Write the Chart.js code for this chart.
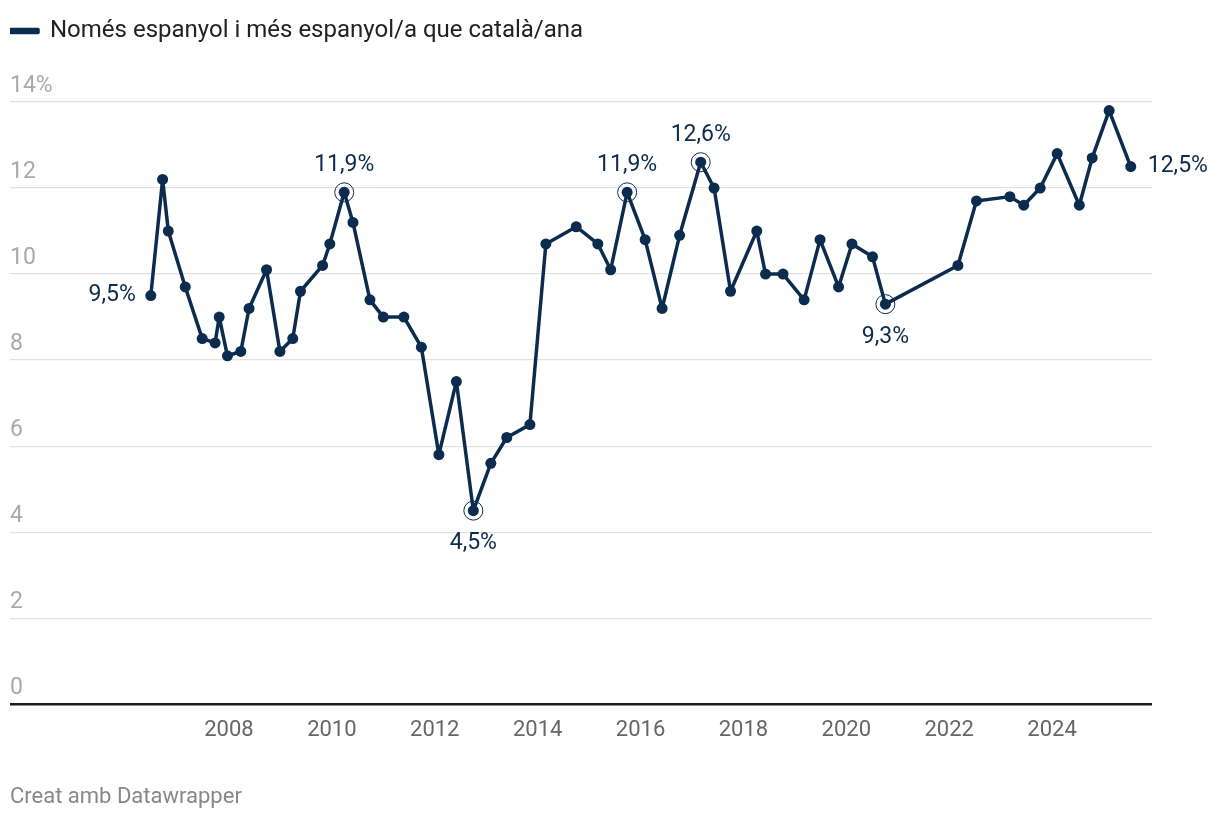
<!DOCTYPE html>
<html>
<head>
<meta charset="utf-8">
<script src="https://cdn.jsdelivr.net/npm/chart.js@4"></script>
<style>
  html, body { margin: 0; padding: 0; background: #fff; }
  #wrap { width: 1220px; height: 818px; }
</style>
</head>
<body>
<div id="wrap"><canvas id="chart"></canvas></div>
<script>
// dates (decimal years) and values
const waveDates = [
  2006.48, 2006.71, 2006.82, 2007.15, 2007.48, 2007.73, 2007.81, 2007.97,
  2008.23, 2008.39, 2008.73, 2008.99, 2009.24, 2009.39, 2009.82, 2009.96,
  2010.24, 2010.41, 2010.74, 2011.00, 2011.40, 2011.74, 2012.08, 2012.42,
  2012.75, 2013.09, 2013.40, 2013.85, 2014.16, 2014.75, 2015.17, 2015.42,
  2015.74, 2016.09, 2016.42, 2016.76, 2017.17, 2017.43, 2017.75, 2018.26,
  2018.43, 2018.77, 2019.18, 2019.49, 2019.85, 2020.11, 2020.51, 2020.76,
  2022.17, 2022.53, 2023.18, 2023.45, 2023.77, 2024.10, 2024.53, 2024.78,
  2025.11, 2025.53
];
const spanishValues = [
  9.5, 12.2, 11.0, 9.7, 8.5, 8.4, 9.0, 8.1,
  8.2, 9.2, 10.1, 8.2, 8.5, 9.6, 10.2, 10.7,
  11.9, 11.2, 9.4, 9.0, 9.0, 8.3, 5.8, 7.5,
  4.5, 5.6, 6.2, 6.5, 10.7, 11.1, 10.7, 10.1,
  11.9, 10.8, 9.2, 10.9, 12.6, 12.0, 9.6, 11.0,
  10.0, 10.0, 9.4, 10.8, 9.7, 10.7, 10.4, 9.3,
  10.2, 11.7, 11.8, 11.6, 12.0, 12.8, 11.6, 12.7,
  13.8, 12.5
];
const seriesLabel = 'Només espanyol i més espanyol/a que català/ana';
const yearTicks = [2008, 2010, 2012, 2014, 2016, 2018, 2020, 2022, 2024];
const valueTicks = [0, 2, 4, 6, 8, 10, 12, 14];

// highlighted points: index into the series, where the label goes, ring or not
const callouts = [
  { i: 0,  pos: 'left',  ring: false },
  { i: 16, pos: 'above', ring: true },
  { i: 24, pos: 'below', ring: true },
  { i: 32, pos: 'above', ring: true },
  { i: 36, pos: 'above', ring: true },
  { i: 47, pos: 'below', ring: true },
  { i: 57, pos: 'right', ring: false }
];

const navy = '#0b2c4e';
const fmt = v => v.toFixed(1).replace('.', ',') + '%';

const calloutPlugin = {
  id: 'callouts',
  afterDatasetsDraw(chart) {
    const ctx = chart.ctx;
    const pts = chart.getDatasetMeta(0).data;
    ctx.save();
    ctx.font = '23px Roboto';
    ctx.fillStyle = navy;
    ctx.strokeStyle = navy;
    callouts.forEach(c => {
      const p = pts[c.i];
      const txt = fmt(spanishValues[c.i]);
      if (c.ring) {
        ctx.lineWidth = 1;
        ctx.beginPath();
        ctx.arc(p.x, p.y, 9.5, 0, Math.PI * 2);
        ctx.stroke();
      }
      ctx.textBaseline = 'middle';
      if (c.pos === 'left') { ctx.textAlign = 'right'; ctx.fillText(txt, p.x - 15, p.y); }
      if (c.pos === 'right') { ctx.textAlign = 'left'; ctx.fillText(txt, p.x + 17, p.y); }
      if (c.pos === 'above') { ctx.textAlign = 'center'; ctx.fillText(txt, p.x, p.y - 27); }
      if (c.pos === 'below') { ctx.textAlign = 'center'; ctx.fillText(txt, p.x, p.y + 33); }
    });
    ctx.restore();
  }
};

// fixed legend height so the plot starts where the original does
const legendGap = {
  id: 'legendGap',
  beforeInit(chart) {
    const fit = chart.legend.fit;
    chart.legend.fit = function () {
      fit.bind(chart.legend)();
      this.height = 83;
    };
  }
};

new Chart(document.getElementById('chart'), {
  type: 'line',
  data: {
    datasets: [{
      label: seriesLabel,
      data: waveDates.map((d, k) => ({ x: d, y: spanishValues[k] })),
      borderColor: navy,
      backgroundColor: navy,
      borderWidth: 3.5,
      borderJoinStyle: 'round',
      borderCapStyle: 'round',
      pointRadius: 5.5,
      pointHoverRadius: 5.5,
      pointBackgroundColor: navy,
      pointBorderWidth: 0,
      tension: 0
    }]
  },
  options: {
    responsive: true,
    maintainAspectRatio: false,
    animation: false,
    layout: { padding: { left: 10, right: 68, top: 19, bottom: 0 } },
    plugins: {
      legend: {
        display: true,
        align: 'start',
        labels: {
          boxWidth: 28,
          boxHeight: 3,
          color: '#222',
          font: { family: 'Roboto', size: 24 },
          padding: 0
        }
      },
      title: {
        display: true,
        text: 'Creat amb Datawrapper',
        position: 'bottom',
        align: 'start',
        color: '#888',
        font: { family: 'Roboto', size: 22, weight: 'normal' },
        padding: { top: 28, bottom: 7 }
      },
      tooltip: { enabled: false }
    },
    scales: {
      x: {
        type: 'linear',
        min: 2003.743,
        max: 2025.943,
        afterBuildTicks: s => { s.ticks = yearTicks.map(v => ({ value: v })); },
        grid: { display: false, drawTicks: false },
        border: { display: false },
        ticks: {
          color: '#666',
          font: { family: 'Roboto', size: 22 },
          padding: 13,
          maxRotation: 0,
          autoSkip: false,
          callback: v => String(v)
        }
      },
      y: {
        min: 0,
        max: 14,
        afterBuildTicks: s => { s.ticks = valueTicks.map(v => ({ value: v })); },
        border: { display: false },
        grid: {
          drawTicks: false,
          color: c => c.tick.value === 0 ? '#1a1a1a' : '#e2e2e2',
          lineWidth: c => c.tick.value === 0 ? 2.5 : 1.2
        },
        ticks: {
          mirror: true,
          padding: 0,
          labelOffset: -16,
          color: '#aaa',
          font: { family: 'Roboto', size: 23 },
          callback: v => v === 14 ? '14%' : String(v)
        }
      }
    }
  },
  plugins: [calloutPlugin, legendGap]
});
</script>
</body>
</html>
